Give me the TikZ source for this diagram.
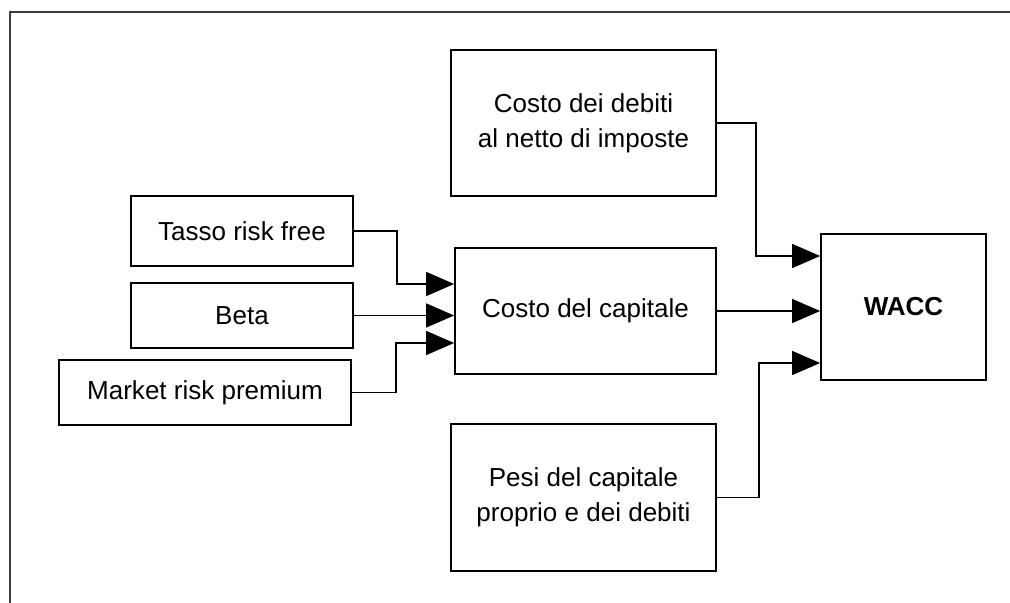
\documentclass[tikz,border=0pt]{standalone}
\usepackage{fontspec}
\setmainfont{Liberation Sans}
\usetikzlibrary{arrows.meta,positioning,calc}
\definecolor{frameCol}{RGB}{60,60,60}
\tikzset{
  blk/.style={draw,line width=1.2pt,align=center,inner sep=0pt,
              font=\fontsize{18.5}{24.8}\selectfont},
  flow/.style={-{Triangle[length=7mm,width=6mm]},line width=1pt},
}

\begin{document}
\begin{tikzpicture}[x=0.025cm,y=-0.025cm]
      \useasboundingbox (0,0) rectangle (1010,603);
      \draw[frameCol,line width=2pt] (10,603) -- (10,12) -- (1010,12);
      % inputs
      \node[blk,minimum width=5.55cm,minimum height=1.75cm] (tasso) at (242,231) {Tasso risk free};
      \node[blk,minimum width=5.55cm,minimum height=1.625cm] (beta) at (242,315.5) {Beta};
      \node[blk,minimum width=7.3cm,minimum height=1.625cm] (mrp) at (205,392.5) {Market risk premium};
      % middle column
      \node[blk,minimum width=6.625cm,minimum height=3.65cm] (debiti) at (583.5,123) {Costo dei debiti\\al netto di imposte};
      \node[blk,minimum width=6.525cm,minimum height=3.15cm] (capitale) at (585.5,311) {Costo del capitale};
      \node[blk,minimum width=6.625cm,minimum height=3.675cm] (pesi) at (583.5,497.5) {Pesi del capitale\\proprio e dei debiti};
      \node[blk,minimum width=4.125cm,minimum height=3.65cm,font=\fontsize{18.5}{24.8}\selectfont\bfseries] (wacc) at (903.5,307) {WACC};
      \coordinate (cin1) at (capitale.west |- 0,284);
      \coordinate (cin3) at (capitale.west |- 0,343);
      \coordinate (win1) at (wacc.west |- 0,256);
      \coordinate (win3) at (wacc.west |- 0,363);
      \draw[flow] (tasso.east) -- ++(43,0) |- (cin1);
      \draw[flow] (beta.east) -- (beta.east -| capitale.west);
      \draw[flow] (mrp.east) -- ++(44,0) |- (cin3);
      \draw[flow] (debiti.east) -- ++(39,0) |- (win1);
      \draw[flow] (capitale.east) -- (capitale.east -| wacc.west);
      \draw[flow] (pesi.east) -- ++(42,0) |- (win3);
    \end{tikzpicture}
\end{document}
